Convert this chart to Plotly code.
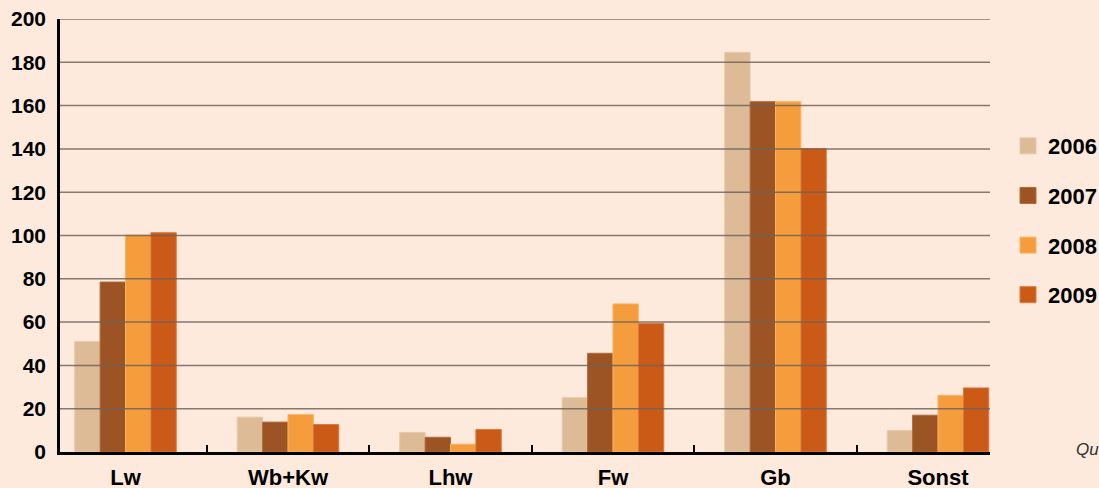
import plotly.graph_objects as go

categories = ["Lw", "Wb+Kw", "Lhw", "Fw", "Gb", "Sonst"]
years = ["2006", "2007", "2008", "2009"]

values_2006 = [51, 16.1, 9.1, 25.1, 184.6, 9.9]
values_2007 = [78.5, 13.8, 6.8, 45.6, 161.8, 17.0]
values_2008 = [100.2, 17.3, 3.6, 68.4, 161.8, 26.2]
values_2009 = [101.3, 12.7, 10.4, 59.4, 140.2, 29.6]

y_ticks = [0, 20, 40, 60, 80, 100, 120, 140, 160, 180, 200]

colors = ["#DDBB96", "#9C5424", "#F59D3C", "#CB5A17"]
edge_colors = ["#E6CAA9", "#B06A3A", "#F8B466", "#DA7A40"]

series = [values_2006, values_2007, values_2008, values_2009]

fig = go.Figure()

for year, vals, col, edge in zip(years, series, colors, edge_colors):
    fig.add_trace(
        go.Bar(
            x=categories,
            y=vals,
            name=year,
            legendgroup=year,
            showlegend=False,
            marker=dict(color=col, line=dict(color=edge, width=1)),
        )
    )
    # legend-only entry, bigger square than plotly's bar symbol
    fig.add_trace(
        go.Scatter(
            x=[None], y=[None],
            mode="markers",
            name=year,
            legendgroup=year,
            marker=dict(symbol="square", size=16, color=col,
                        line=dict(color=edge, width=1)),
        )
    )

# gridlines sit on top of the bars in the original
for t in y_ticks[1:]:
    fig.add_shape(
        type="line", xref="paper", yref="y",
        x0=0, x1=1, y0=t, y1=t,
        line=dict(color="rgba(110,100,92,0.85)", width=1.5),
        layer="above",
    )

fig.add_annotation(
    text="<i>Quelle:</i>", xref="paper", yref="paper",
    x=(1074 - 60) / 930, y=0.006, xanchor="left", yanchor="middle",
    showarrow=False, font=dict(size=17, color="#333333"),
)

fig.update_layout(
    width=1099,
    height=488,
    barmode="group",
    bargap=0.375,
    bargroupgap=0,
    paper_bgcolor="#FDEADC",
    plot_bgcolor="#FDEADC",
    margin=dict(l=60, r=109, t=19, b=35.5, autoexpand=False),
    font=dict(family="Liberation Sans, Arial", size=22, color="black"),
    legend=dict(
        x=(1008 - 60) / 930, xanchor="left",
        y=0.755, yanchor="top",
        font=dict(size=22, weight="bold"),
        tracegroupgap=18,
        bgcolor="rgba(0,0,0,0)",
    ),
    xaxis=dict(
        range=[-0.403, 5.32],
        showgrid=False,
        showline=True, linecolor="black", linewidth=2.5,
        ticks="inside", tickson="boundaries", ticklen=7,
        tickwidth=2, tickcolor="black",
        ticklabelstandoff=4,
        tickfont=dict(size=22, weight="bold"),
        fixedrange=True,
    ),
    yaxis=dict(
        range=[0, 200],
        tickvals=y_ticks,
        showgrid=False,
        zeroline=False,
        showline=True, linecolor="black", linewidth=2.5,
        ticks="",
        ticklabelstandoff=7,
        tickfont=dict(size=21, weight="bold"),
        fixedrange=True,
    ),
)

fig.write_html(
    "out.html",
    config={"displayModeBar": False},
    post_script="document.body.style.margin='0';",
)
